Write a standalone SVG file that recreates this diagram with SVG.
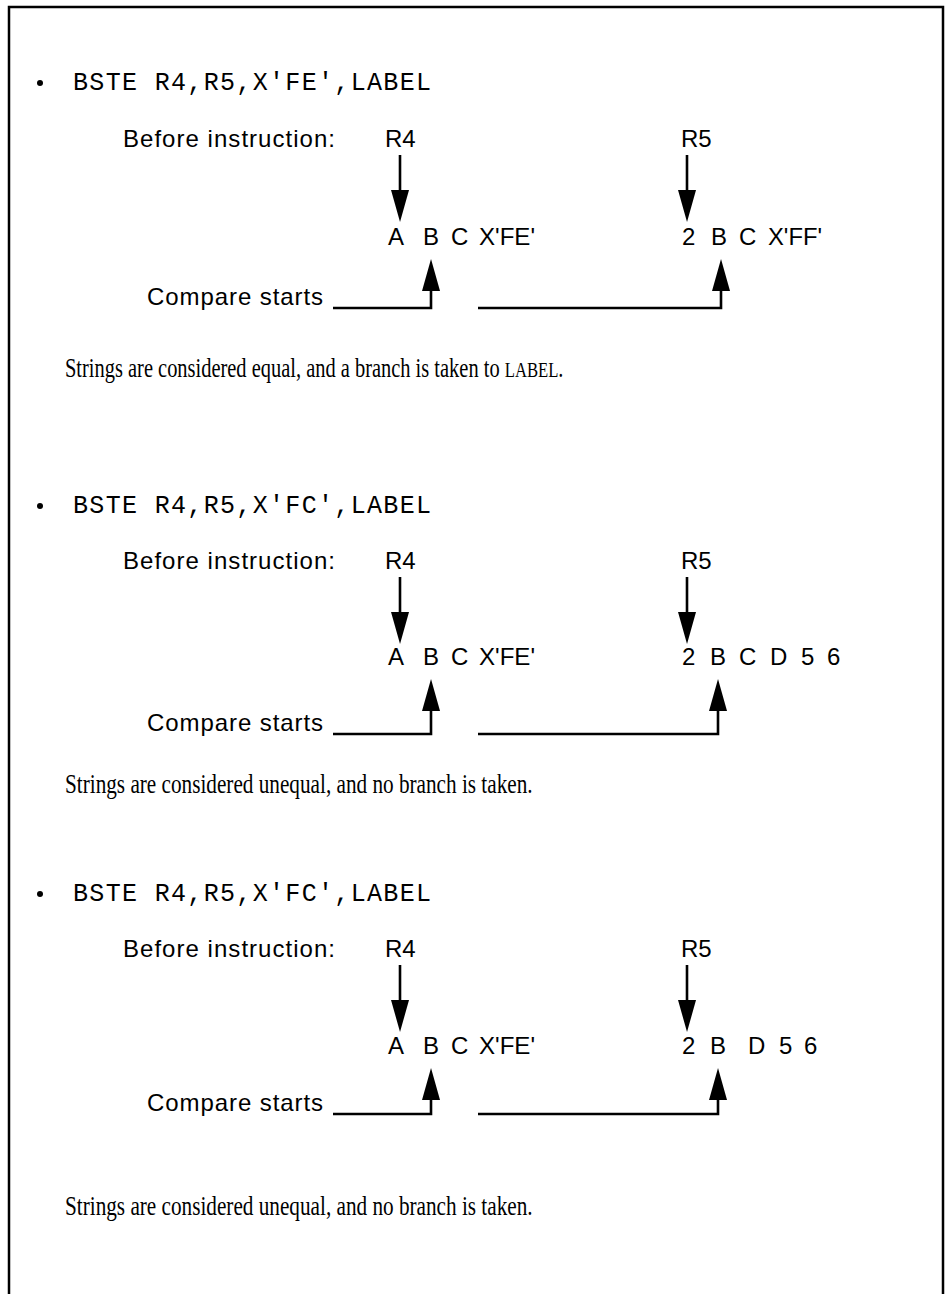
<svg xmlns="http://www.w3.org/2000/svg" width="945" height="1294" viewBox="0 0 945 1294">
<style>
.cmd{font-family:"Liberation Mono","Courier New",monospace;font-size:25px;fill:#000}
.lbl{font-family:"Liberation Sans",Arial,sans-serif;font-size:24px;fill:#000}
.res{font-family:"Liberation Serif","Times New Roman",serif;font-size:27px;fill:#000}
.sc{font-size:22px}
.ln{fill:none;stroke:#000;stroke-width:2.6}
.frame{fill:none;stroke:#000;stroke-width:2.5}
</style>
<defs>
<marker id="ah" viewBox="0 0 32 18" refX="24" refY="9" markerWidth="32" markerHeight="18" markerUnits="userSpaceOnUse" orient="auto">
<path d="M0,0 L32,9 L0,18 z" fill="#000"/>
</marker>
</defs>
<rect width="945" height="1294" fill="#fff"/>
<path class="frame" d="M9,1294 V7 H943 V1294"/>

<!-- Section 1 -->
<g id="s1-cmd"><circle cx="40" cy="83" r="3"/><text class="cmd" x="73" y="90" textLength="358" lengthAdjust="spacing">BSTE R4,R5,X'FE',LABEL</text></g>
<g id="s1-before"><text class="lbl" x="123" y="147" textLength="212" lengthAdjust="spacing">Before instruction:</text></g>
<g id="s1-r4"><text class="lbl" x="385" y="147">R4</text></g>
<g id="s1-r5"><text class="lbl" x="681" y="147">R5</text></g>
<g id="s1-str1"><text class="lbl" y="245"><tspan x="388">A</tspan><tspan x="423">B</tspan><tspan x="451">C</tspan><tspan x="479" textLength="56" lengthAdjust="spacingAndGlyphs">X'FE'</tspan></text></g>
<g id="s1-str2"><text class="lbl" y="245"><tspan x="682">2</tspan><tspan x="711">B</tspan><tspan x="739">C</tspan><tspan x="768" textLength="54" lengthAdjust="spacingAndGlyphs">X'FF'</tspan></text></g>
<g id="s1-compare"><text class="lbl" x="147" y="305" textLength="176" lengthAdjust="spacing">Compare starts</text></g>
<g id="s1-result"><text class="res" transform="translate(65,377) scale(0.757,1)">Strings are considered equal, and a branch is taken to <tspan class="sc">LABEL</tspan>.</text></g>

<!-- Section 2 -->
<g id="s2-cmd"><circle cx="40" cy="506" r="3"/><text class="cmd" x="73" y="513" textLength="358" lengthAdjust="spacing">BSTE R4,R5,X'FC',LABEL</text></g>
<g id="s2-before"><text class="lbl" x="123" y="569" textLength="212" lengthAdjust="spacing">Before instruction:</text></g>
<g id="s2-r4"><text class="lbl" x="385" y="569">R4</text></g>
<g id="s2-r5"><text class="lbl" x="681" y="569">R5</text></g>
<g id="s2-str1"><text class="lbl" y="665"><tspan x="388">A</tspan><tspan x="423">B</tspan><tspan x="451">C</tspan><tspan x="479" textLength="56" lengthAdjust="spacingAndGlyphs">X'FE'</tspan></text></g>
<g id="s2-str2"><text class="lbl" y="665"><tspan x="682">2</tspan><tspan x="710">B</tspan><tspan x="739">C</tspan><tspan x="770">D</tspan><tspan x="801">5</tspan><tspan x="827">6</tspan></text></g>
<g id="s2-compare"><text class="lbl" x="147" y="731" textLength="176" lengthAdjust="spacing">Compare starts</text></g>
<g id="s2-result"><text class="res" transform="translate(65,793) scale(0.786,1)">Strings are considered unequal, and no branch is taken.</text></g>

<!-- Section 3 -->
<g id="s3-cmd"><circle cx="40" cy="894" r="3"/><text class="cmd" x="73" y="901" textLength="358" lengthAdjust="spacing">BSTE R4,R5,X'FC',LABEL</text></g>
<g id="s3-before"><text class="lbl" x="123" y="957" textLength="212" lengthAdjust="spacing">Before instruction:</text></g>
<g id="s3-r4"><text class="lbl" x="385" y="957">R4</text></g>
<g id="s3-r5"><text class="lbl" x="681" y="957">R5</text></g>
<g id="s3-str1"><text class="lbl" y="1054"><tspan x="388">A</tspan><tspan x="423">B</tspan><tspan x="451">C</tspan><tspan x="479" textLength="56" lengthAdjust="spacingAndGlyphs">X'FE'</tspan></text></g>
<g id="s3-str2"><text class="lbl" y="1054"><tspan x="682">2</tspan><tspan x="710">B</tspan><tspan x="748">D</tspan><tspan x="779">5</tspan><tspan x="804">6</tspan></text></g>
<g id="s3-compare"><text class="lbl" x="147" y="1111" textLength="176" lengthAdjust="spacing">Compare starts</text></g>
<g id="s3-result"><text class="res" transform="translate(65,1215) scale(0.786,1)">Strings are considered unequal, and no branch is taken.</text></g>

<g id="connectors">
<path class="ln" d="M400,155 V214" marker-end="url(#ah)"/>
<path class="ln" d="M687,155 V214" marker-end="url(#ah)"/>
<path class="ln" d="M333,308 H431 V267" marker-end="url(#ah)"/>
<path class="ln" d="M478,308 H721 V267" marker-end="url(#ah)"/>

<path class="ln" d="M400,577 V636" marker-end="url(#ah)"/>
<path class="ln" d="M687,577 V636" marker-end="url(#ah)"/>
<path class="ln" d="M333,734 H431 V687" marker-end="url(#ah)"/>
<path class="ln" d="M478,734 H718 V687" marker-end="url(#ah)"/>

<path class="ln" d="M400,965 V1024" marker-end="url(#ah)"/>
<path class="ln" d="M687,965 V1024" marker-end="url(#ah)"/>
<path class="ln" d="M333,1114 H431 V1076" marker-end="url(#ah)"/>
<path class="ln" d="M478,1114 H718 V1076" marker-end="url(#ah)"/>
</g>
</svg>
